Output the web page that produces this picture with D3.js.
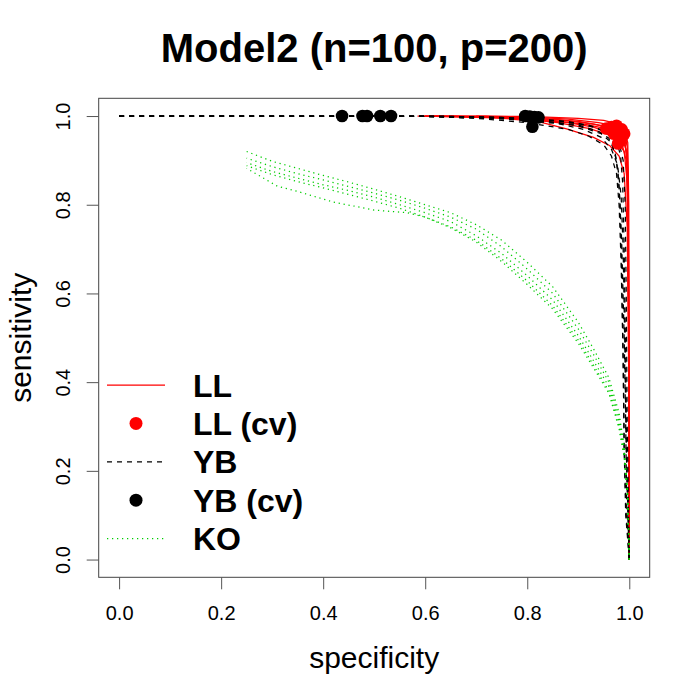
<!DOCTYPE html>
<html><head><meta charset="utf-8">
<script src="https://cdn.jsdelivr.net/npm/d3@7/dist/d3.min.js"></script>
<style>body{margin:0;background:#fff}svg{display:block}</style>
</head><body>
<svg id="c" width="700" height="700"></svg>
<script>
// ---------- data ----------
const titleText = "Model2 (n=100, p=200)";
const xLabel = "specificity";
const yLabel = "sensitivity";
const xTicks = [0, 0.2, 0.4, 0.6, 0.8, 1.0];
const yTicks = [0, 0.2, 0.4, 0.6, 0.8, 1.0];
const legendLabels = ["LL", "LL (cv)", "YB", "YB (cv)", "KO"];

// LL curves: [specificity, sensitivity]
const llCurve1 = [[0.585,1],[0.70,1],[0.80,0.998],[0.88,0.993],[0.94,0.985],[0.97,0.978],[0.99,0.965],[0.996,0.93],[0.998,0.85],[0.999,0.5],[1,0]];
const llCurve2 = [[0.60,1],[0.72,0.999],[0.82,0.995],[0.90,0.988],[0.95,0.978],[0.975,0.968],[0.99,0.95],[0.996,0.90],[0.998,0.70],[1,0]];
const llCurve3 = [[0.62,1],[0.75,0.997],[0.85,0.99],[0.92,0.98],[0.96,0.97],[0.98,0.958],[0.992,0.935],[0.997,0.88],[0.999,0.6],[1,0]];
const llCurve4 = [[0.59,1],[0.70,0.998],[0.80,0.993],[0.88,0.985],[0.93,0.975],[0.965,0.96],[0.985,0.94],[0.994,0.90],[0.998,0.75],[1,0]];
const llCurve5 = [[0.65,1],[0.78,0.995],[0.86,0.985],[0.92,0.972],[0.955,0.96],[0.975,0.945],[0.99,0.92],[0.996,0.85],[0.999,0.55],[1,0]];
const llCurve6 = [[0.60,1],[0.74,0.996],[0.82,0.988],[0.877,0.971],[0.93,0.952],[0.962,0.933],[0.98,0.91],[0.99,0.87],[0.996,0.75],[0.999,0.4],[1,0]];
const llCurve7 = [[0.70,1],[0.80,0.999],[0.90,0.995],[0.95,0.99],[0.975,0.983],[0.99,0.97],[0.997,0.94],[0.999,0.8],[1,0]];
const llCurve8 = [[0.61,1],[0.76,0.998],[0.86,0.992],[0.93,0.982],[0.965,0.972],[0.985,0.955],[0.995,0.92],[0.998,0.8],[1,0]];
const llCurves = [llCurve1, llCurve2, llCurve3, llCurve4, llCurve5, llCurve6, llCurve7, llCurve8];

// LL cross-validated points
const llCvSpec = [0.955, 0.965, 0.975, 0.980, 0.985, 0.987, 0.983, 0.978, 0.990, 0.970];
const llCvSens = [0.972, 0.975, 0.978, 0.965, 0.970, 0.955, 0.945, 0.938, 0.960, 0.960];

// YB curves
const ybCurve1 = [[0,1],[0.50,1],[0.70,0.998],[0.80,0.993],[0.90,0.98],[0.94,0.965],[0.96,0.95],[0.972,0.92],[0.978,0.87],[0.982,0.80],[0.985,0.65],[0.988,0.45],[0.99,0.25],[0.993,0.10],[1,0]];
const ybCurve2 = [[0,1],[0.55,1],[0.72,0.997],[0.82,0.99],[0.90,0.978],[0.945,0.96],[0.965,0.94],[0.975,0.90],[0.98,0.84],[0.985,0.72],[0.99,0.50],[0.993,0.30],[0.995,0.12],[1,0]];
const ybCurve3 = [[0,1],[0.60,1],[0.75,0.997],[0.85,0.99],[0.92,0.98],[0.955,0.965],[0.975,0.945],[0.983,0.91],[0.987,0.85],[0.99,0.70],[0.993,0.45],[0.995,0.20],[1,0]];
const ybCurve4 = [[0,1],[0.58,1],[0.70,0.995],[0.80,0.985],[0.88,0.97],[0.92,0.955],[0.95,0.935],[0.965,0.91],[0.975,0.87],[0.98,0.80],[0.984,0.67],[0.988,0.45],[0.99,0.25],[0.994,0.10],[1,0]];
const ybCurve5 = [[0,1],[0.62,1],[0.78,0.996],[0.88,0.988],[0.93,0.975],[0.96,0.96],[0.98,0.94],[0.988,0.90],[0.992,0.80],[0.994,0.60],[0.996,0.30],[1,0]];
const ybCurve6 = [[0,1],[0.60,0.999],[0.76,0.993],[0.86,0.983],[0.91,0.97],[0.945,0.952],[0.965,0.925],[0.977,0.89],[0.984,0.82],[0.988,0.70],[0.991,0.50],[0.994,0.25],[1,0]];
const ybCurves = [ybCurve1, ybCurve2, ybCurve3, ybCurve4, ybCurve5, ybCurve6];

// YB cross-validated points
const ybCvSpec = [0.437, 0.477, 0.486, 0.512, 0.533, 0.796, 0.805, 0.814, 0.822, 0.810];
const ybCvSens = [1.000, 1.000, 1.000, 1.000, 1.000, 1.000, 0.999, 0.998, 0.997, 0.976];

// KO curves
const koCurve1 = [[0.25,0.92],[0.30,0.898],[0.35,0.882],[0.40,0.866],[0.45,0.851],[0.50,0.835],[0.55,0.818],[0.60,0.80],[0.65,0.782],[0.70,0.755],[0.75,0.72],[0.80,0.67],[0.85,0.615],[0.90,0.535],[0.93,0.475],[0.96,0.41],[0.98,0.33],[0.99,0.255],[0.997,0.15],[1,0]];
const koCurve2 = [[0.25,0.905],[0.30,0.886],[0.35,0.870],[0.40,0.856],[0.45,0.841],[0.50,0.826],[0.55,0.81],[0.60,0.792],[0.65,0.772],[0.70,0.745],[0.75,0.705],[0.80,0.655],[0.85,0.60],[0.90,0.52],[0.93,0.462],[0.96,0.40],[0.98,0.32],[0.99,0.25],[0.997,0.145],[1,0]];
const koCurve3 = [[0.25,0.895],[0.30,0.875],[0.35,0.86],[0.40,0.845],[0.45,0.832],[0.50,0.817],[0.55,0.80],[0.60,0.782],[0.65,0.762],[0.70,0.73],[0.75,0.69],[0.80,0.64],[0.85,0.585],[0.90,0.505],[0.93,0.448],[0.96,0.39],[0.98,0.31],[0.99,0.24],[0.997,0.14],[1,0]];
const koCurve4 = [[0.25,0.888],[0.30,0.868],[0.35,0.852],[0.40,0.838],[0.45,0.823],[0.50,0.808],[0.55,0.792],[0.60,0.772],[0.65,0.75],[0.70,0.72],[0.75,0.678],[0.80,0.628],[0.85,0.572],[0.90,0.495],[0.93,0.438],[0.96,0.38],[0.98,0.30],[0.99,0.235],[0.997,0.135],[1,0]];
const koCurve5 = [[0.25,0.882],[0.28,0.862],[0.31,0.842],[0.35,0.83],[0.42,0.806],[0.50,0.788],[0.565,0.782],[0.60,0.772],[0.65,0.748],[0.70,0.716],[0.75,0.672],[0.80,0.62],[0.85,0.565],[0.90,0.488],[0.93,0.432],[0.96,0.375],[0.98,0.295],[0.99,0.23],[0.997,0.13],[1,0]];
const koCurves = [koCurve1, koCurve2, koCurve3, koCurve4, koCurve5];

// ---------- drawing ----------
const FONT = "'Liberation Sans', Arial, Helvetica, sans-serif";
const svg = d3.select("#c");
svg.append("rect").attr("width",700).attr("height",700).attr("fill","#fff");

const L = 98.7, R = 649.7, T = 98.3, B = 577.3;
const x = d3.scaleLinear().domain([-0.04, 1.04]).range([L, R]);
const y = d3.scaleLinear().domain([-0.04, 1.04]).range([B, T]);
const line = d3.line().x(d => x(d[0])).y(d => y(d[1]));

const plot = svg.append("g");
const RED = "#ff0000", GREEN = "#00cd00";

// LL lines
plot.selectAll("path.ll").data(llCurves).join("path").attr("class","ll")
  .attr("d", line).attr("fill","none").attr("stroke",RED).attr("stroke-width",1.25);
// YB lines (all start at (0,1) so the shared top segment keeps one dash phase)
plot.selectAll("path.yb").data(ybCurves).join("path").attr("class","yb")
  .attr("d", line).attr("fill","none").attr("stroke","#000").attr("stroke-width",1.25)
  .attr("stroke-dasharray","5,5");
// LL cv points
plot.selectAll("circle.llcv").data(d3.range(llCvSpec.length)).join("circle").attr("class","llcv")
  .attr("cx", i => x(llCvSpec[i])).attr("cy", i => y(llCvSens[i])).attr("r",6.3).attr("fill",RED);
// YB cv points
plot.selectAll("circle.ybcv").data(d3.range(ybCvSpec.length)).join("circle").attr("class","ybcv")
  .attr("cx", i => x(ybCvSpec[i])).attr("cy", i => y(ybCvSens[i])).attr("r",6.3).attr("fill","#000");
// KO lines
plot.selectAll("path.ko").data(koCurves.map(c => c.slice().reverse())).join("path").attr("class","ko")
  .attr("d", line).attr("fill","none").attr("stroke",GREEN).attr("stroke-width",1.25)
  .attr("stroke-dasharray","1.25,3.75");

// box
svg.append("rect").attr("x",L).attr("y",T).attr("width",R-L).attr("height",B-T)
  .attr("fill","none").attr("stroke","#444").attr("stroke-width",1);

// axes
const fmt = d3.format(".1f");
const xAxis = svg.append("g").attr("transform",`translate(0,${B})`)
  .call(d3.axisBottom(x).tickValues(xTicks).tickFormat(fmt).tickSize(12).tickSizeOuter(0));
xAxis.select(".domain").remove();
xAxis.selectAll(".tick line").attr("stroke","#555");
xAxis.selectAll(".tick text").attr("font-family",FONT).attr("font-size",20).attr("fill","#000")
  .attr("dy",null).attr("y",43).attr("dominant-baseline","alphabetic");

const yAxis = svg.append("g").attr("transform",`translate(${L},0)`)
  .call(d3.axisLeft(y).tickValues(yTicks).tickFormat(fmt).tickSize(12).tickSizeOuter(0));
yAxis.select(".domain").remove();
yAxis.selectAll(".tick line").attr("stroke","#555");
yAxis.selectAll(".tick text").attr("font-family",FONT).attr("font-size",20).attr("fill","#000")
  .attr("x",null).attr("dy",null).attr("text-anchor","middle")
  .attr("transform","translate(-29,0) rotate(-90)");

// titles
svg.append("text").attr("x",(L+R)/2).attr("y",62).attr("text-anchor","middle")
  .attr("font-family",FONT).attr("font-weight","bold").attr("font-size",40).text(titleText);
svg.append("text").attr("x",(L+R)/2).attr("y",668).attr("text-anchor","middle")
  .attr("font-family",FONT).attr("font-size",30).text(xLabel);
svg.append("text").attr("transform",`translate(31,${(T+B)/2}) rotate(-90)`).attr("text-anchor","middle")
  .attr("font-family",FONT).attr("font-size",30).text(yLabel);

// legend
const legY = [385, 423.4, 461.8, 500.2, 538.6];
const leg = svg.append("g");
const legStyles = [
  {type:"line", color:RED, dash:null},
  {type:"dot", color:RED},
  {type:"line", color:"#000", dash:"5,5"},
  {type:"dot", color:"#000"},
  {type:"line", color:GREEN, dash:"1.25,3.75"}
];
legStyles.forEach((s,i) => {
  if (s.type === "line") {
    leg.append("line").attr("x1",107).attr("x2",165).attr("y1",legY[i]).attr("y2",legY[i])
      .attr("stroke",s.color).attr("stroke-width",1.25).attr("stroke-dasharray",s.dash);
  } else {
    leg.append("circle").attr("cx",136).attr("cy",legY[i]).attr("r",6.5).attr("fill",s.color);
  }
  leg.append("text").attr("x",193).attr("y",legY[i]).attr("dy","0.36em")
    .attr("font-family",FONT).attr("font-weight","bold").attr("font-size",32).text(legendLabels[i]);
});
</script>
</body></html>
